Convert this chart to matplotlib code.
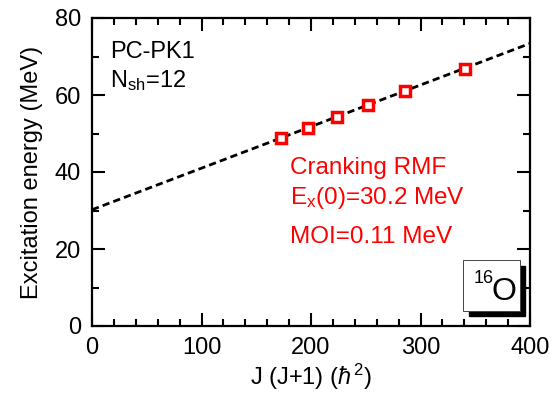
import matplotlib
matplotlib.use("Agg")
import matplotlib.pyplot as plt
from matplotlib.patches import Rectangle

plt.rcParams['font.family'] = ['Liberation Sans', 'DejaVu Sans']
plt.rcParams['mathtext.fontset'] = 'custom'
plt.rcParams['mathtext.rm'] = 'Liberation Sans'
plt.rcParams['mathtext.it'] = 'Liberation Sans:italic'
plt.rcParams['mathtext.fallback'] = 'cm'

# Data
jj1 = [172.3, 197.5, 224.0, 252.0, 286.0, 340.4]
energy = [48.8, 51.4, 54.3, 57.4, 61.0, 66.8]
fit_x = [0, 400]
fit_y = [30.2, 73.4]

fig = plt.figure(figsize=(5.59, 4.0), dpi=100)
ax = fig.add_axes([0.1646, 0.185, 0.7836, 0.770])

ax.plot(fit_x, fit_y, color='black', lw=2.0, dashes=(2.6, 1.5), zorder=2)
ax.plot(jj1, energy, linestyle='none', marker='s', markersize=7,
        markerfacecolor='white', markeredgecolor='#ff0000', markeredgewidth=2.5, zorder=3)

ax.set_xlim(0, 400)
ax.set_ylim(0, 80)
ax.set_xticks([0, 100, 200, 300, 400])
ax.set_xticks(range(0, 401, 20), minor=True)
ax.set_yticks([0, 20, 40, 60, 80])
ax.set_yticks(range(0, 81, 10), minor=True)
ax.tick_params(which='both', direction='in', top=True, right=True, width=1.5, labelsize=17)
ax.tick_params(which='major', length=9.5, pad=8)
ax.tick_params(which='minor', length=5)
for s in ax.spines.values():
    s.set_linewidth(1.6)

ax.set_xlabel(r'J (J+1) ($\hbar\,^{2}$)', fontsize=17, labelpad=2)
ax.set_ylabel('Excitation energy (MeV)', fontsize=17, labelpad=8)

ax.text(16.4, 69.6, 'PC-PK1', fontsize=17, va='baseline', ha='left')
ax.text(16.4, 62.1, 'N$_{\\rm sh}$=12', fontsize=17, va='baseline', ha='left')

red = '#ff0000'
ax.text(180.8, 39.4, 'Cranking RMF', fontsize=17.5, color=red, va='baseline')
ax.text(180.8, 31.6, 'E$_{\\rm x}$(0)=30.2 MeV', fontsize=17.5, color=red, va='baseline')
ax.text(180.8, 21.6, 'MOI=0.11 MeV', fontsize=17.5, color=red, va='baseline')

# nucleus label box with shadow
bx0, by0, bw, bh = 0.848, 0.049, 0.128, 0.165
ax.add_patch(Rectangle((bx0 + 0.0126, by0 - 0.018), bw, bh, transform=ax.transAxes,
                       facecolor='black', edgecolor='black', zorder=4, clip_on=False))
ax.add_patch(Rectangle((bx0, by0), bw, bh, transform=ax.transAxes,
                       facecolor='white', edgecolor='#444444', lw=0.7, zorder=5, clip_on=False))
ax.text(0.872, 0.141, '16', transform=ax.transAxes, fontsize=13, va='baseline', zorder=6)
ax.text(0.912, 0.084, 'O', transform=ax.transAxes, fontsize=23, va='baseline', zorder=6)

fig.savefig('out.png', dpi=100)
